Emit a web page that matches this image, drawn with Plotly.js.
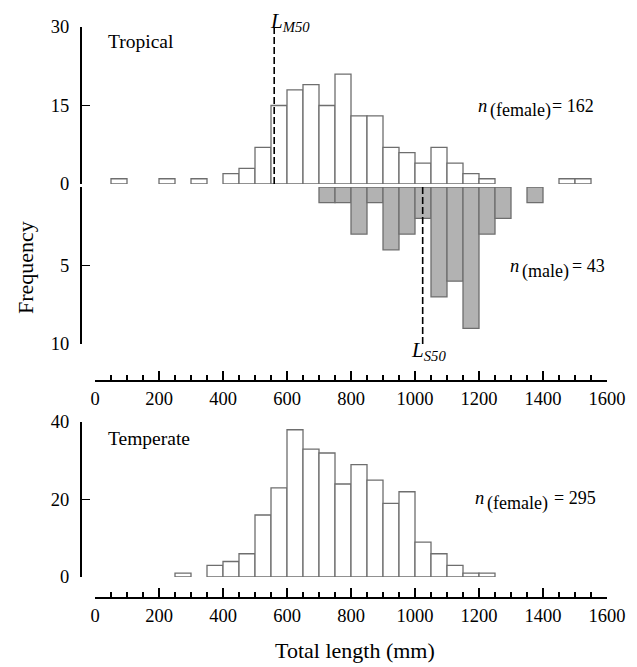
<!DOCTYPE html>
<html>
<head>
<meta charset="utf-8">
<script src="https://cdn.plot.ly/plotly-3.0.1.min.js"></script>
<style>html,body{margin:0;padding:0;background:#fff;}</style>
</head>
<body>
<div id="chart" style="width:637px;height:667px;"></div>
<script>
// ---- Data (bin start in mm, bin width 50 mm) ----
const tropicalFemaleBins   = [50, 200, 300, 400, 450, 500, 550, 600, 650, 700, 750, 800, 850, 900, 950, 1000, 1050, 1100, 1150, 1200, 1450, 1500];
const tropicalFemaleCounts = [1, 1, 1, 2, 3, 7, 15, 18, 19, 15, 21, 13, 13, 7, 6, 4, 7, 4, 2, 1, 1, 1];
const tropicalMaleBins     = [700, 750, 800, 850, 900, 950, 1000, 1050, 1100, 1150, 1200, 1250, 1350];
const tropicalMaleCounts   = [1, 1, 3, 1, 4, 3, 2, 7, 6, 9, 3, 2, 1];
const temperateFemaleBins   = [250, 350, 400, 450, 500, 550, 600, 650, 700, 750, 800, 850, 900, 950, 1000, 1050, 1100, 1150, 1200];
const temperateFemaleCounts = [1, 3, 4, 6, 16, 23, 38, 33, 32, 24, 29, 25, 19, 22, 9, 6, 3, 1, 1];
const binWidth = 50;
const LM50 = 560;
const LS50 = 1024;
const xTickVals = [0, 200, 400, 600, 800, 1000, 1200, 1400, 1600];
const femaleTicks = [0, 15, 30];
const maleTicks = [5, 10];
const temperateTicks = [0, 20, 40];

// ---- Layout helpers (pixel -> paper) ----
const W = 637, H = 667;
const px = x => x / W;
const py = y => 1 - y / H;
const FONT = 'Liberation Serif';
const outline = {color: '#6e6e6e', width: 1.3};

const traces = [
  {type: 'bar', x: tropicalFemaleBins, y: tropicalFemaleCounts, width: binWidth, offset: 0,
   xaxis: 'x', yaxis: 'y', marker: {color: '#ffffff', line: outline}, hoverinfo: 'skip'},
  {type: 'bar', x: tropicalMaleBins, y: tropicalMaleCounts, width: binWidth, offset: 0,
   xaxis: 'x', yaxis: 'y2', marker: {color: '#b2b2b2', line: outline}, hoverinfo: 'skip'},
  {type: 'bar', x: temperateFemaleBins, y: temperateFemaleCounts, width: binWidth, offset: 0,
   xaxis: 'x2', yaxis: 'y3', marker: {color: '#ffffff', line: outline}, hoverinfo: 'skip'}
];

const xCommon = {
  domain: [px(95), px(607)], range: [0, 1600], anchor: 'free',
  showline: true, linecolor: 'black', linewidth: 1.5,
  ticks: 'inside', ticklen: 9, tickwidth: 1.5, tickcolor: 'black',
  tickvals: xTickVals, showgrid: false, zeroline: false,
  minor: {dtick: 50, tick0: 0, ticks: 'inside', ticklen: 5, tickwidth: 1.2, tickcolor: 'black', showgrid: false},
  tickfont: {family: FONT, size: 18.5, color: 'black'}, ticklabelstandoff: 1
};
const yCommon = {
  anchor: 'free', position: px(80), showline: true, linecolor: 'black', linewidth: 1.5,
  ticks: 'inside', ticklen: 8, tickwidth: 1.5, tickcolor: 'black',
  showgrid: false, zeroline: false,
  tickfont: {family: FONT, size: 18.5, color: 'black'}, ticklabelstandoff: 7
};

function ann(text, x, y, size, opts) {
  return Object.assign({text: text, xref: 'paper', yref: 'paper', x: px(x), y: py(y),
    showarrow: false, xanchor: 'left', yanchor: 'middle',
    font: {family: FONT, size: size, color: 'black'}}, opts || {});
}

const annotations = [
  ann('Tropical', 106, 42, 19.5),
  ann('Temperate', 106, 438, 19.5),
  ann('<i>n</i>', 489, 106, 18.5, {xanchor: 'right'}),
  ann('(female)', 488, 111, 18),
  ann('= 162', 550, 106, 18),
  ann('<i>n</i>', 521, 266, 18.5, {xanchor: 'right'}),
  ann('(male)', 520, 271, 18),
  ann('= 43', 570, 266, 18),
  ann('<i>n</i>', 486, 498, 18.5, {xanchor: 'right'}),
  ann('(female)', 485, 503, 18),
  ann('= 295', 552, 498, 18),
  ann('<i>L</i><sub><i>M50</i></sub>', 268, 22, 21),
  ann('<i>L</i><sub><i>S50</i></sub>', 409, 351, 21),
  ann('Frequency', 25, 268, 22, {xanchor: 'center', textangle: -90}),
  ann('Total length (mm)', 355, 650, 22, {xanchor: 'center'})
];

const shapes = [
  {type: 'line', xref: 'x', yref: 'y', x0: LM50, x1: LM50, y0: 0, y1: 30,
   line: {color: 'black', width: 1.6, dash: '7px,3px'}},
  {type: 'line', xref: 'x', yref: 'y2', x0: LS50, x1: LS50, y0: 0, y1: 10,
   line: {color: 'black', width: 1.6, dash: '7px,3px'}}
];

const layout = {
  width: W, height: H, margin: {l: 0, r: 0, t: 0, b: 0},
  paper_bgcolor: 'white', plot_bgcolor: 'rgba(0,0,0,0)',
  showlegend: false, barmode: 'overlay',
  font: {family: FONT, size: 18.5, color: 'black'},
  xaxis: Object.assign({}, xCommon, {position: py(380)}),
  xaxis2: Object.assign({}, xCommon, {position: py(597)}),
  yaxis: Object.assign({}, yCommon, {domain: [py(184), py(27)], range: [0, 30], tickvals: femaleTicks}),
  yaxis2: Object.assign({}, yCommon, {domain: [py(344), py(187)], range: [10, 0], tickvals: maleTicks,
    minor: {tickvals: [0], ticks: 'inside', ticklen: 8, tickwidth: 1.5, tickcolor: 'black', showgrid: false}}),
  yaxis3: Object.assign({}, yCommon, {domain: [py(577), py(422)], range: [0, 40], tickvals: temperateTicks}),
  annotations: annotations,
  shapes: shapes
};

Plotly.newPlot('chart', traces, layout, {displayModeBar: false, staticPlot: true});
</script>
</body>
</html>
